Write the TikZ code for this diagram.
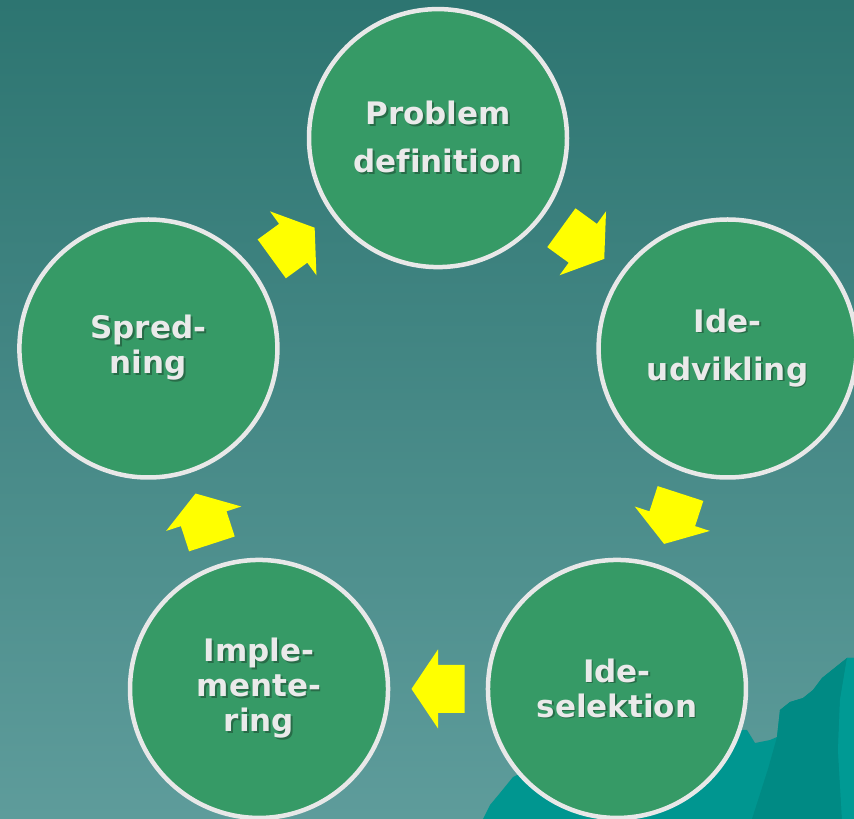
\documentclass[tikz,border=0pt]{standalone}
\usepackage{fontspec}
\setmainfont[Ligatures=NoCommon]{DejaVu Sans}
\usetikzlibrary{calc}
\definecolor{bgtop}{HTML}{2D7571}
\definecolor{bgbot}{HTML}{5E9C9B}
\definecolor{bubblefill}{HTML}{369A66}
\definecolor{bubbleline}{HTML}{E8E8E8}
\definecolor{txt}{HTML}{EAEAEA}
\definecolor{txtshadow}{HTML}{286C48}
\definecolor{arrowyellow}{HTML}{FFFF00}
\definecolor{mtA}{HTML}{009690}
\definecolor{mtB}{HTML}{008A84}
\definecolor{mtC}{HTML}{009A94}
\newcommand\shw[1]{\leavevmode\rlap{\kern1.8pt\raisebox{-1.8pt}{\textcolor{txtshadow}{#1}}}#1}
\tikzset{
  bubble/.style={circle, fill=bubblefill, draw=bubbleline, line width=4.5pt, minimum size=258pt, inner sep=0pt,
    text=txt, align=center, font=\bfseries\fontsize{31}{35}\selectfont},
  blockarrow/.pic={\fill[arrowyellow] (-26.5,24) -- (0,24) -- (0,39.5) -- (26.5,0) -- (0,-39.5) -- (0,-24) -- (-26.5,-24) -- cycle;}
}
\begin{document}
\begin{tikzpicture}[x=1pt,y=1pt]
\useasboundingbox (0,0) rectangle (854,819);
% background
\shade[top color=bgtop, bottom color=bgbot] (0,0) rectangle (854,819);
% mountains (pixel y -> 819 - y)
\fill[mtA] (483,0) -- (490,14) -- (500,26) -- (513,42) -- (525,48) -- (733,89) -- (747,89) -- (755,76) -- (770,79) -- (777,82) -- (780,109) -- (790,117) -- (803,121) -- (813,129) -- (822,141) -- (832,149) -- (847,161) -- (854,161) -- (854,0) -- cycle;
\fill[mtB] (777,82) -- (780,109) -- (790,117) -- (803,121) -- (813,129) -- (822,141) -- (832,149) -- (847,161) -- (840,119) -- (838,69) -- (842,0) -- (752,0) -- (768,50) -- cycle;
\fill[mtC] (847,161) -- (854,161) -- (854,0) -- (842,0) -- (838,69) -- (840,119) -- cycle;
% circles with text
\coordinate (c) at (438,376.4);
\node[bubble] (p) at ($(c)+(90:304.5)$) {\shw{Problem}\\[13pt]\shw{definition}};
\node[bubble] (u) at ($(c)+(18:304.5)$) {\shw{Ide-}\\[13pt]\shw{udvikling}};
\node[bubble] (s) at ($(c)+(-54:304.5)$) {\shw{Ide-}\\\shw{selektion}};
\node[bubble] (i) at ($(c)+(-126:304.5)$) {\shw{Imple-}\\\shw{mente-}\\\shw{ring}};
\node[bubble] (d) at ($(c)+(162:304.5)$) {\shw{Spred-}\\\shw{ning}};
% arrows
\pic[rotate=-36] (a1) at ($(p)!0.5!(u)$) {blockarrow};
\pic[rotate=-108] (a2) at ($(u)!0.5!(s)$) {blockarrow};
\pic[rotate=180] (a3) at ($(s)!0.5!(i)$) {blockarrow};
\pic[rotate=108] (a4) at ($(i)!0.5!(d)$) {blockarrow};
\pic[rotate=36] (a5) at ($(d)!0.5!(p)$) {blockarrow};
\end{tikzpicture}
\end{document}
